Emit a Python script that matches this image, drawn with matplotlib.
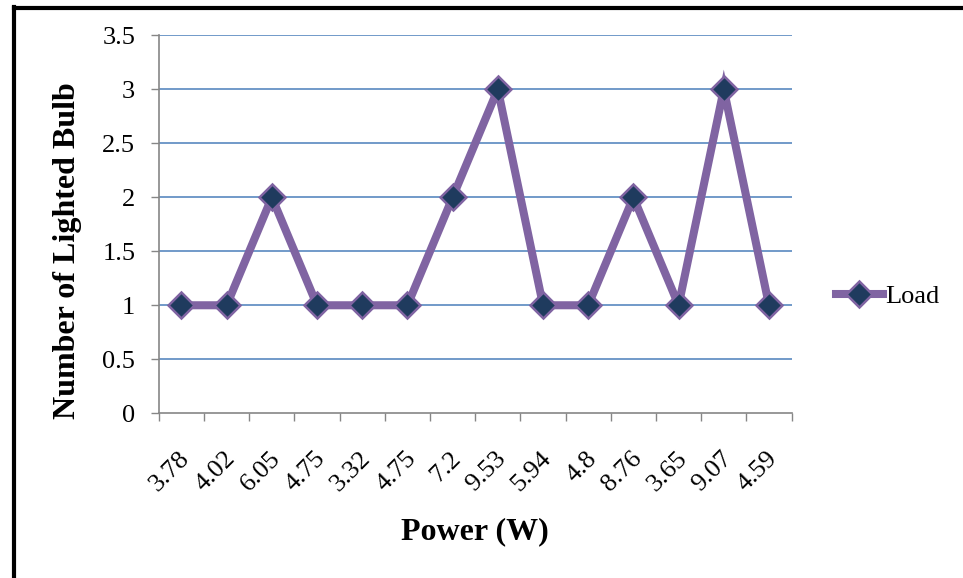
import numpy as np
import matplotlib.pyplot as plt
import matplotlib.transforms as mtransforms
from matplotlib.lines import Line2D

plt.rcParams['font.family'] = ['Liberation Serif', 'DejaVu Serif']

# data
power_labels = ['3.78', '4.02', '6.05', '4.75', '3.32', '4.75', '7.2',
                '9.53', '5.94', '4.8', '8.76', '3.65', '9.07', '4.59']
bulbs = [1, 1, 2, 1, 1, 1, 2, 3, 1, 1, 2, 1, 3, 1]
y_ticks = [0, 0.5, 1, 1.5, 2, 2.5, 3, 3.5]
y_tick_labels = ['0', '0.5', '1', '1.5', '2', '2.5', '3', '3.5']

fig = plt.figure(figsize=(9.63, 5.78), dpi=100)
ax = fig.add_axes([0.165, 0.285, 0.657, 0.654])

x = np.arange(len(bulbs))
ax.plot(x, bulbs, '-', color='#8064a2', lw=5.8, marker='D', ms=13,
        mfc='#1f3b5e', mec='#8064a2', mew=1.8, label='Load', zorder=3,
        solid_joinstyle='miter')

ax.set_xlim(-0.5, len(bulbs) - 0.5)
ax.set_ylim(0, 3.5)

# gridlines
for yv in y_ticks[1:]:
    ax.axhline(yv, color='#4a7ebb', lw=1.1, zorder=1)

ax.set_yticks(y_ticks)
ax.set_yticklabels(y_tick_labels, fontsize=19)
ax.tick_params(axis='y', length=6, width=1, color='#868686', pad=11)

# category boundary ticks on x axis
ax.set_xticks(np.arange(-0.5, len(bulbs), 1.0))
ax.set_xticklabels([])
ax.tick_params(axis='x', length=6, width=1, color='#868686')
ax.set_xticks(x, minor=True)
ax.set_xticklabels(power_labels, minor=True, rotation=45, ha='right',
                   va='center', rotation_mode='anchor', fontsize=19)
ax.tick_params(axis='x', which='minor', length=0, pad=30)
shift = mtransforms.ScaledTranslation(5 / 100, 0, fig.dpi_scale_trans)
for lab in ax.get_xticklabels(minor=True):
    lab.set_transform(lab.get_transform() + shift)

for s in ['top', 'right']:
    ax.spines[s].set_visible(False)
for s in ['left', 'bottom']:
    ax.spines[s].set_color('#868686')
    ax.spines[s].set_linewidth(1.2)

ax.set_ylabel('Number of Lighted Bulb', fontsize=23, fontweight='bold')
ax.yaxis.set_label_coords(-0.121, 0.43)
fig.text(0.493, 0.08, 'Power (W)', fontsize=23, fontweight='bold',
         ha='center', va='center')

fig.legend(loc='center left', bbox_to_anchor=(0.843, 0.487), frameon=False,
           fontsize=19, handlelength=1.8, handletextpad=0.1)

# outer border (left and top)
fig.add_artist(Line2D([0.0145, 0.0145], [0, 0.988], color='black', lw=3,
                      transform=fig.transFigure))
fig.add_artist(Line2D([0.0145, 1.0], [0.987, 0.987], color='black', lw=3,
                      transform=fig.transFigure))

plt.savefig('out.png', dpi=100)
